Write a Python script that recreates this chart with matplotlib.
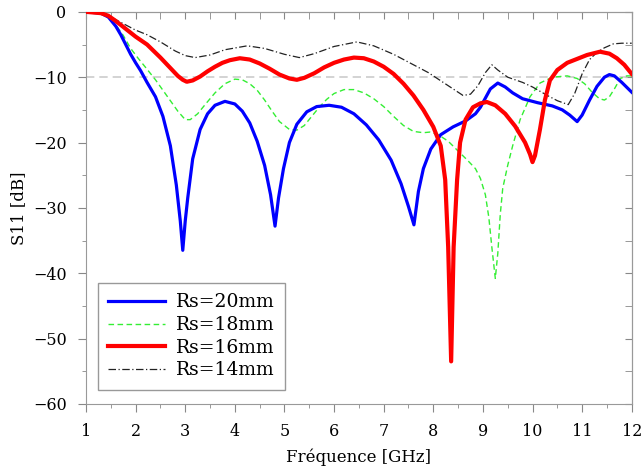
"""
S11 vs frequency for several Rs values — recreated reference plot.
"""

import matplotlib
matplotlib.use("Agg")
import matplotlib.pyplot as plt
from matplotlib.ticker import MultipleLocator

plt.rcParams["font.family"] = ["DejaVu Serif"]

# Rs = 20 mm
f_20 = [1.0, 1.3, 1.45, 1.6, 1.7, 1.8, 1.9, 2.0, 2.1, 2.23, 2.4, 2.55, 2.7, 2.82, 2.9,
        2.95, 3.0, 3.05, 3.15, 3.3, 3.45, 3.6, 3.8, 4.0, 4.15, 4.3, 4.45, 4.6, 4.72, 4.81,
        4.88, 4.98, 5.1, 5.25, 5.45, 5.65, 5.9, 6.15, 6.4, 6.65, 6.9, 7.15, 7.35, 7.5,
        7.61, 7.7, 7.8, 7.95, 8.15, 8.4, 8.65, 8.85, 8.95, 9.05, 9.15, 9.3, 9.45, 9.6,
        9.8, 10.1, 10.4, 10.6, 10.75, 10.9, 11.0, 11.15, 11.3, 11.45, 11.55, 11.65,
        11.8, 12.0]
s_20 = [0.0, -0.2, -0.8, -2.2, -3.5, -5.0, -6.5, -7.8, -9.0, -10.8, -13.0, -16.0, -20.5,
        -26.5, -32.0, -36.5, -32.0, -28.5, -22.5, -18.0, -15.6, -14.3, -13.7, -14.1, -15.2,
        -17.0, -19.8, -23.5, -28.0, -32.8, -28.5, -24.0, -20.0, -17.2, -15.3, -14.5, -14.3,
        -14.6, -15.6, -17.3, -19.6, -22.7, -26.3, -29.8, -32.6, -27.5, -24.0, -21.0, -18.8,
        -17.6, -16.7, -15.6, -14.6, -13.2, -11.8, -10.9, -11.5, -12.4, -13.3, -13.9,
        -14.4, -15.0, -15.8, -16.8, -15.8, -13.5, -11.4, -10.0, -9.6, -9.8, -10.8, -12.3]

# Rs = 18 mm
f_18 = [1.0, 1.3, 1.45, 1.6, 1.75, 1.9, 2.05, 2.2, 2.4, 2.55, 2.7, 2.85, 3.0, 3.1, 3.25,
        3.4, 3.6, 3.8, 4.0, 4.15, 4.3, 4.45, 4.6, 4.75, 4.9, 5.1, 5.25, 5.4, 5.55, 5.7,
        5.85, 6.0, 6.2, 6.4, 6.6, 6.8, 7.0, 7.2, 7.4, 7.6, 7.8, 7.93, 8.1, 8.3, 8.5,
        8.7, 8.85, 8.95, 9.05, 9.12, 9.18, 9.25, 9.3, 9.35, 9.4, 9.5, 9.6, 9.75, 9.95,
        10.15, 10.4, 10.7, 10.9, 11.05, 11.2, 11.35, 11.45, 11.55, 11.65, 11.77,
        11.9, 12.0]
s_18 = [0.0, -0.2, -0.8, -2.0, -3.6, -5.6, -7.1, -8.5, -10.4, -12.0, -13.6, -15.2, -16.5,
        -16.5, -15.6, -14.2, -12.4, -11.0, -10.3, -10.4, -11.0, -12.0, -13.5, -15.2, -16.8,
        -18.0, -18.1, -17.4, -16.0, -14.6, -13.4, -12.5, -11.9, -11.9, -12.4, -13.3,
        -14.5, -16.0, -17.4, -18.3, -18.5, -18.4, -18.8, -19.8, -21.3, -22.8, -24.0,
        -25.5, -28.0, -31.5, -36.0, -40.8, -37.0, -31.0, -27.0, -23.5, -20.5, -16.5,
        -13.0, -10.9, -10.0, -9.8, -10.2, -11.0, -12.3, -13.3, -13.5, -13.0, -11.8,
        -10.2, -9.8, -9.8]

# Rs = 16 mm
f_16 = [1.0, 1.3, 1.45, 1.6, 1.8, 2.0, 2.23, 2.5, 2.7, 2.85, 2.95, 3.03, 3.15, 3.3, 3.45,
        3.6, 3.75, 3.9, 4.1, 4.3, 4.5, 4.7, 4.9, 5.1, 5.25, 5.4, 5.6, 5.8, 6.0, 6.2, 6.4,
        6.6, 6.8, 7.0, 7.2, 7.4, 7.6, 7.8, 8.0, 8.15, 8.24, 8.3, 8.36, 8.41, 8.48, 8.54,
        8.65, 8.8, 8.95, 9.08, 9.25, 9.45, 9.65, 9.85, 9.95, 10.0, 10.05, 10.15, 10.25,
        10.35, 10.5, 10.7, 10.9, 11.1, 11.36, 11.55, 11.7, 11.85, 12.0]
s_16 = [0.0, -0.2, -0.6, -1.4, -2.6, -3.8, -5.0, -7.0, -8.6, -9.8, -10.4, -10.7, -10.5,
        -9.9, -9.1, -8.4, -7.8, -7.4, -7.1, -7.3, -7.9, -8.7, -9.6, -10.2, -10.4, -10.1,
        -9.4, -8.5, -7.8, -7.3, -7.0, -7.1, -7.6, -8.4, -9.5, -11.0, -12.8, -15.0,
        -17.6, -20.5, -25.7, -36.0, -53.5, -36.0, -25.7, -20.0, -16.5, -14.6, -14.0,
        -13.8, -14.3, -15.6, -17.5, -20.0, -21.8, -23.0, -22.0, -18.0, -13.5, -10.5,
        -8.9, -7.8, -7.2, -6.6, -6.1, -6.4, -7.1, -8.1, -9.5]

# Rs = 14 mm
f_14 = [1.0, 1.3, 1.45, 1.6, 1.8, 2.0, 2.23, 2.5, 2.8, 3.0, 3.2, 3.5, 3.8, 4.25, 4.6, 5.0,
        5.3, 5.6, 6.0, 6.46, 6.8, 7.2, 7.5, 7.9, 8.3, 8.6, 8.75, 8.9, 9.05, 9.18, 9.3,
        9.5, 9.8, 10.0, 10.3, 10.5, 10.72, 10.85, 11.0, 11.15, 11.3, 11.45, 11.63, 11.8,
        12.0]
s_14 = [0.0, -0.2, -0.6, -1.2, -2.0, -2.8, -3.5, -4.6, -6.0, -6.7, -7.0, -6.6, -5.8,
        -5.2, -5.6, -6.5, -7.0, -6.4, -5.3, -4.6, -5.2, -6.5, -7.7, -9.3, -11.3, -12.8,
        -12.6, -11.3, -9.3, -8.1, -8.9, -10.0, -10.8, -11.5, -12.8, -13.6, -14.2, -12.5,
        -9.5, -7.3, -6.2, -5.5, -4.9, -4.8, -4.8]

ref_level = -10
x_ticks = list(range(1, 13))
y_ticks = list(range(-60, 1, 10))

fig = plt.figure(figsize=(6.42, 4.74), dpi=100)
ax = fig.add_axes([0.134, 0.148, 0.850, 0.827])

ax.axhline(ref_level, color="#cccccc", linewidth=1.2, linestyle=(0, (5, 3)), zorder=1)
ax.plot(f_20, s_20, color="#0000ff", linewidth=2.3, label="Rs=20mm", zorder=3)
ax.plot(f_18, s_18, color="#33ee33", linewidth=1.0, linestyle=(0, (4, 2.5)), label="Rs=18mm", zorder=2)
ax.plot(f_16, s_16, color="#ff0000", linewidth=3.0, label="Rs=16mm", zorder=4)
ax.plot(f_14, s_14, color="#222222", linewidth=0.9, linestyle=(0, (6, 2, 1, 2)), label="Rs=14mm", zorder=2)

ax.set_xlim(1, 12)
ax.set_ylim(-60, 0)
ax.set_xticks(x_ticks)
ax.set_yticks(y_ticks)
ax.xaxis.set_minor_locator(MultipleLocator(0.5))
ax.yaxis.set_minor_locator(MultipleLocator(5))
ax.tick_params(which="both", direction="out", color="#888888", labelsize=11.5, pad=8)
ax.tick_params(which="major", length=6)
ax.tick_params(which="minor", length=3)

# inward ticks mirrored on top and right
top = ax.secondary_xaxis("top")
top.set_xticks(x_ticks)
top.xaxis.set_minor_locator(MultipleLocator(0.5))
top.tick_params(which="both", direction="in", length=5, color="#888888", labeltop=False)
right = ax.secondary_yaxis("right")
right.set_yticks(y_ticks)
right.yaxis.set_minor_locator(MultipleLocator(5))
right.tick_params(which="both", direction="in", length=5, color="#888888", labelright=False)

for sp in list(ax.spines.values()) + [top.spines["top"], right.spines["right"]]:
    sp.set_color("#999999")

ax.set_xlabel("Fréquence [GHz]", fontsize=12, labelpad=6)
ax.set_ylabel("S11 [dB]", fontsize=12, labelpad=4)

leg = ax.legend(loc="lower left", fontsize=13.5, handlelength=3.0, labelspacing=0.25,
                handletextpad=0.6, borderpad=0.55, fancybox=False, framealpha=1,
                edgecolor="#999999", bbox_to_anchor=(0.005, 0.012))
leg.get_frame().set_linewidth(1.0)

fig.savefig("out.png", dpi=100)
